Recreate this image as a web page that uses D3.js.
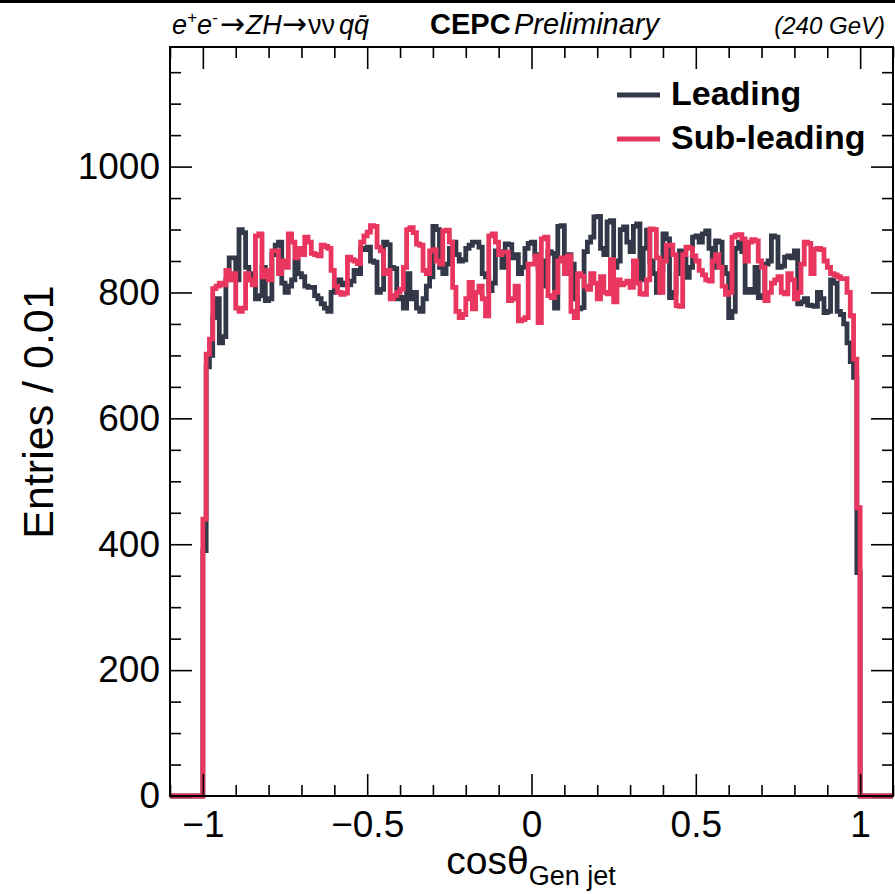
<!DOCTYPE html>
<html>
<head>
<meta charset="utf-8">
<script src="https://cdn.jsdelivr.net/npm/d3@7"></script>
<style>
  html, body { margin: 0; padding: 0; background: #fff; }
  svg { display: block; }
  text { font-family: "Liberation Sans", Arial, Helvetica, sans-serif; }
</style>
</head>
<body>
<svg id="chart" width="895" height="894"></svg>
<script>
// ---------------- data ----------------
const binLow = -1.0;      // first filled bin edge
const binWidth = 0.01;    // bin width
const xDomain = [-1.1, 1.1];
const yDomain = [0, 1190];

const seriesNames = ["Leading", "Sub-leading"];
const seriesColors = ["#333849", "#e8365f"];

const leading = [
  390, 682, 700, 760, 790, 720, 730, 820, 855, 855,
  820, 900, 895, 840, 820, 830, 790, 795, 840, 787,
  790, 860, 875, 880, 815, 800, 810, 820, 850, 830,
  825, 810, 808, 808, 795, 790, 782, 775, 770, 800,
  815, 820, 812, 815, 812, 818, 835, 830, 870, 868,
  872, 850, 848, 800, 805, 880, 876, 840, 838, 790,
  792, 775, 830, 790, 800, 775, 770, 790, 810, 825,
  905, 900, 840, 830, 845, 870, 880, 860, 850, 852,
  870, 875, 880, 880, 872, 830, 825, 803, 815, 866,
  865, 840, 877, 876, 855, 860, 830, 840, 870, 878,
  880, 860, 840, 810, 850, 865, 862, 775, 905, 906,
  860, 860, 845, 790, 774, 776, 865, 880, 888, 920,
  921, 870, 860, 912, 914, 840, 850, 900, 904, 880,
  865, 905, 909, 820, 870, 899, 850, 830, 800, 835,
  893, 885, 792, 800, 830, 866, 855, 824, 840, 888,
  890, 880, 893, 898, 870, 840, 882, 880, 840, 830,
  760, 770, 870, 880, 865, 800, 805, 800, 840, 792,
  795, 845, 850, 890, 888, 840, 842, 856, 858, 855,
  866, 782, 785, 790, 780, 779, 778, 800, 790, 768,
  770, 820, 815, 770, 765, 750, 720, 690, 665, 355
];

const subLeading = [
  440, 702, 726, 806, 810, 815, 812, 835, 820, 830,
  775, 770, 775, 830, 820, 812, 890, 893, 825, 835,
  820, 866, 866, 830, 850, 840, 893, 880, 855, 870,
  860, 888, 880, 862, 860, 858, 875, 873, 870, 835,
  810, 800, 797, 799, 856, 852, 850, 846, 880, 890,
  896, 906, 905, 872, 866, 830, 835, 790, 795, 800,
  805, 840, 900, 903, 895, 877, 875, 835, 830, 866,
  868, 850, 845, 898, 899, 880, 808, 770, 760, 765,
  790, 816, 774, 800, 810, 790, 763, 890, 893, 880,
  860, 864, 864, 787, 790, 810, 755, 757, 760, 845,
  845, 858, 752, 885, 888, 795, 792, 800, 850, 855,
  830, 858, 770, 760, 830, 826, 810, 805, 830, 815,
  790, 825, 800, 798, 852, 785, 820, 812, 815, 818,
  808, 850, 815, 798, 797, 820, 901, 900, 855, 800,
  850, 875, 875, 860, 779, 778, 860, 872, 870, 858,
  850, 835, 828, 820, 818, 850, 860, 840, 810, 797,
  800, 888, 891, 892, 885, 850, 880, 884, 882, 850,
  840, 787, 800, 815, 820, 825, 800, 798, 830, 820,
  790, 800, 845, 880, 878, 830, 869, 870, 868, 850,
  840, 830, 828, 825, 822, 822, 800, 763, 694, 458
];

const xMajorTicks = [-1, -0.5, 0, 0.5, 1];
const xTickLabels = ["\u22121", "\u22120.5", "0", "0.5", "1"];
const xMinorTicks = [-1.1, -0.9, -0.8, -0.7, -0.6, -0.4, -0.3, -0.2, -0.1, 0.1, 0.2, 0.3, 0.4, 0.6, 0.7, 0.8, 0.9, 1.1];
const yMajorTicks = [0, 200, 400, 600, 800, 1000];
const yMinorTicks = [50, 100, 150, 250, 300, 350, 450, 500, 550, 650, 700, 750, 850, 900, 950, 1050, 1100, 1150];

// ---------------- layout ----------------
const W = 895, H = 894;
const L = 170, R = 893, T = 47, B = 796;
const svg = d3.select("#chart");

svg.append("rect").attr("x", 0).attr("y", 0).attr("width", W).attr("height", 3).attr("fill", "#000");

const x = d3.scaleLinear().domain(xDomain).range([L, R]);
const y = d3.scaleLinear().domain(yDomain).range([B, T]);

function toPoints(vals) {
  const pts = [[xDomain[0], 0]];
  vals.forEach((v, i) => pts.push([binLow + i * binWidth, v]));
  pts.push([binLow + vals.length * binWidth, 0]);
  pts.push([xDomain[1], 0]);
  return pts;
}

const line = d3.line()
  .x(d => x(d[0]))
  .y(d => y(d[1]))
  .curve(d3.curveStepAfter);

[leading, subLeading].forEach((vals, i) => {
  svg.append("path")
    .datum(toPoints(vals))
    .attr("d", line)
    .attr("fill", "none")
    .attr("stroke", seriesColors[i])
    .attr("stroke-width", 4.8)
    .attr("stroke-linejoin", "miter");
});

// ---------------- axes ----------------
const fmtX = d => xTickLabels[xMajorTicks.indexOf(d)];
const tickStyle = g => {
  g.select(".domain").remove();
  g.selectAll(".tick line").attr("stroke", "#000").attr("stroke-width", 1.6);
};

// bottom
svg.append("g").attr("transform", `translate(0,${B})`)
  .call(d3.axisBottom(x).tickValues(xMajorTicks).tickSize(-22).tickPadding(15).tickFormat(fmtX))
  .call(tickStyle)
  .call(g => g.selectAll("text").attr("font-size", 37).attr("fill", "#000")
    .attr("font-family", '"Liberation Sans", Arial, sans-serif').attr("dy", "0.71em"));
svg.append("g").attr("transform", `translate(0,${B})`)
  .call(d3.axisBottom(x).tickValues(xMinorTicks).tickSize(-11).tickFormat(""))
  .call(tickStyle);
// top
svg.append("g").attr("transform", `translate(0,${T})`)
  .call(d3.axisTop(x).tickValues(xMajorTicks).tickSize(-22).tickFormat(""))
  .call(tickStyle);
svg.append("g").attr("transform", `translate(0,${T})`)
  .call(d3.axisTop(x).tickValues(xMinorTicks).tickSize(-11).tickFormat(""))
  .call(tickStyle);
// left
svg.append("g").attr("transform", `translate(${L},0)`)
  .call(d3.axisLeft(y).tickValues(yMajorTicks).tickSize(-22).tickPadding(10).tickFormat(d3.format("d")))
  .call(tickStyle)
  .call(g => g.selectAll("text").attr("font-size", 37).attr("fill", "#000")
    .attr("font-family", '"Liberation Sans", Arial, sans-serif'));
svg.append("g").attr("transform", `translate(${L},0)`)
  .call(d3.axisLeft(y).tickValues(yMinorTicks).tickSize(-11).tickFormat(""))
  .call(tickStyle);
// right
svg.append("g").attr("transform", `translate(${R},0)`)
  .call(d3.axisRight(y).tickValues(yMajorTicks).tickSize(-22).tickFormat(""))
  .call(tickStyle);
svg.append("g").attr("transform", `translate(${R},0)`)
  .call(d3.axisRight(y).tickValues(yMinorTicks).tickSize(-11).tickFormat(""))
  .call(tickStyle);

// frame
svg.append("rect").attr("x", L).attr("y", T).attr("width", R - L).attr("height", B - T)
  .attr("fill", "none").attr("stroke", "#000").attr("stroke-width", 2);

// ---------------- titles ----------------
svg.append("text")
  .attr("transform", `translate(53,412) rotate(-90)`)
  .attr("text-anchor", "middle")
  .attr("font-size", 43)
  .attr("fill", "#000")
  .text("Entries / 0.01");

const xl = svg.append("text")
  .attr("x", 531).attr("y", 874)
  .attr("text-anchor", "middle")
  .attr("font-size", 39)
  .attr("fill", "#000");
xl.append("tspan").text("cos\u03b8");
xl.append("tspan").attr("font-size", 27).attr("dy", 11).text("Gen jet");

// header
const arrowFont = '"DejaVu Sans", sans-serif';
const hdr = svg.append("text").attr("x", 172).attr("y", 34).attr("font-size", 27).attr("fill", "#000");
hdr.append("tspan").attr("font-style", "italic").text("e");
hdr.append("tspan").attr("font-style", "italic").attr("font-size", 17).attr("dy", -11).text("+");
hdr.append("tspan").attr("font-style", "italic").attr("dy", 11).text("e");
hdr.append("tspan").attr("font-style", "italic").attr("font-size", 17).attr("dy", -11).text("-");
hdr.append("tspan").attr("dy", 11).attr("dx", 2).attr("font-family", arrowFont).attr("font-size", 30).text("\u2192");
hdr.append("tspan").attr("font-style", "italic").attr("dx", 1).text("ZH");
hdr.append("tspan").attr("font-family", arrowFont).attr("font-size", 30).text("\u2192");
hdr.append("tspan").attr("dx", 1).text("\u03bd\u03bd");
hdr.append("tspan").attr("font-style", "italic").attr("dx", 4).text("q");
hdr.append("tspan").attr("font-style", "italic").text("q\u0304");

svg.append("text").attr("x", 430).attr("y", 34).attr("font-size", 29).attr("font-weight", "bold")
  .attr("fill", "#000").text("CEPC");
svg.append("text").attr("x", 514).attr("y", 34).attr("font-size", 29).attr("font-style", "italic")
  .attr("fill", "#000").text("Preliminary");
svg.append("text").attr("x", 885).attr("y", 34).attr("font-size", 24).attr("font-style", "italic")
  .attr("text-anchor", "end").attr("fill", "#000").text("(240 GeV)");

// ---------------- legend ----------------
const legY = [95, 139];
seriesNames.forEach((name, i) => {
  svg.append("line")
    .attr("x1", 617).attr("x2", 660)
    .attr("y1", legY[i]).attr("y2", legY[i])
    .attr("stroke", seriesColors[i]).attr("stroke-width", 5);
  svg.append("text")
    .attr("x", 671).attr("y", legY[i] + 10)
    .attr("font-size", 34).attr("font-weight", "bold").attr("fill", "#000")
    .text(name);
});
</script>
</body>
</html>
